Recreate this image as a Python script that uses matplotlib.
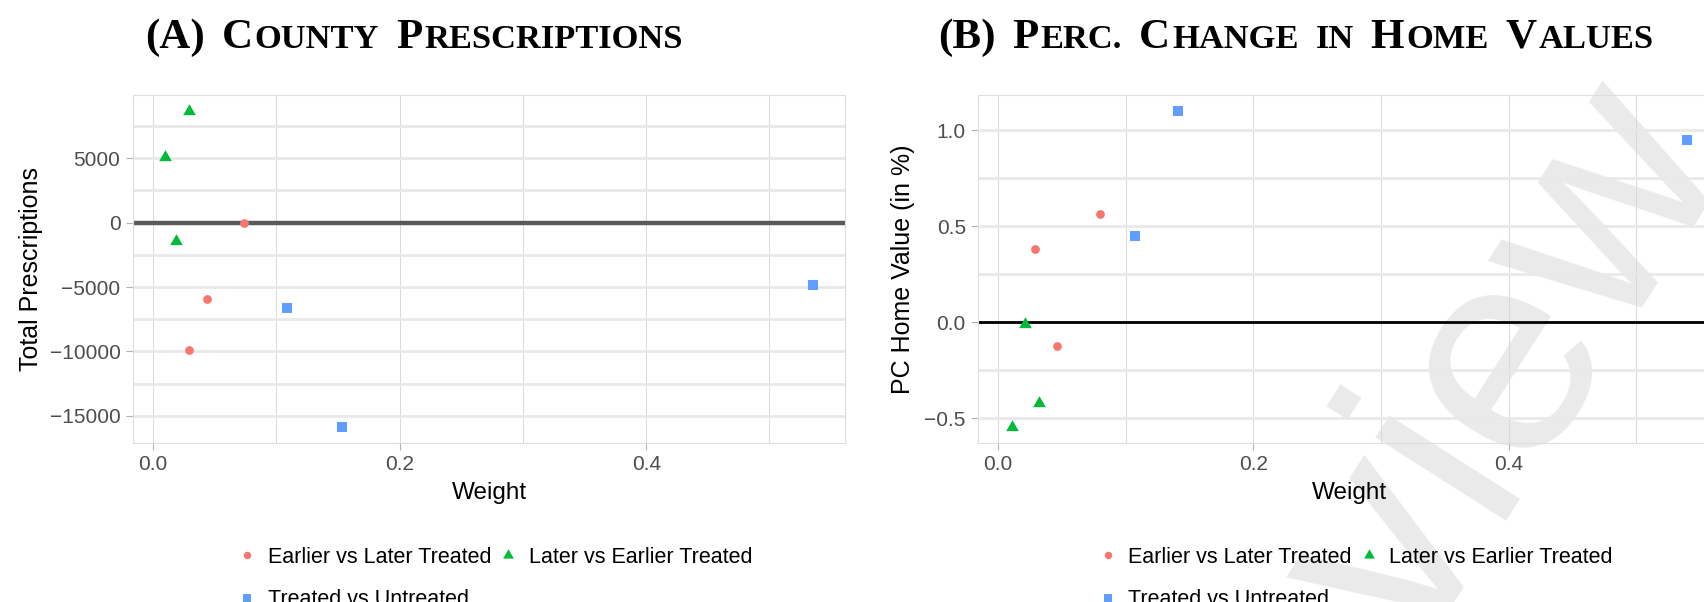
import matplotlib
matplotlib.use("Agg")
import matplotlib.pyplot as plt
from matplotlib.ticker import FixedLocator, FuncFormatter
from matplotlib.lines import Line2D

plt.rcParams['font.family'] = ['Liberation Sans', 'DejaVu Sans']

# ---------------- data ----------------
series = ["Earlier vs Later Treated", "Later vs Earlier Treated", "Treated vs Untreated"]
colors = ["#F8766D", "#00BA38", "#619CFF"]

# Panel A: County prescriptions
a_elt_w = [0.029, 0.044, 0.074]
a_elt_y = [-9860, -5950, -60]
a_let_w = [0.010, 0.019, 0.029]
a_let_y = [5080, -1410, 8680]
a_tvu_w = [0.109, 0.153, 0.535]
a_tvu_y = [-6600, -15840, -4850]

# Panel B: Percent change in home values
b_elt_w = [0.029, 0.046, 0.080]
b_elt_y = [0.382, -0.124, 0.563]
b_let_w = [0.011, 0.021, 0.032]
b_let_y = [-0.544, -0.010, -0.421]
b_tvu_w = [0.107, 0.141, 0.540]
b_tvu_y = [0.449, 1.102, 0.950]

a_yticks = [-15000, -10000, -5000, 0, 5000]
a_yminor = [-12500, -7500, -2500, 2500, 7500]
b_yticks = [-0.5, 0.0, 0.5, 1.0]
b_yminor = [-0.25, 0.25, 0.75]
xticks = [0.0, 0.2, 0.4]
xminor = [0.1, 0.3, 0.5]

W, H = 1704, 602
fig = plt.figure(figsize=(W / 100, H / 100), dpi=100)

# equilateral triangle marker
tri = [(0, 0.577), (-0.5, -0.289), (0.5, -0.289), (0, 0.577)]
markers = ['o', tri, 's']
msizes = [6.3, 10.5, 6.6]


def px_axes(x0, x1, y0, y1):
    return fig.add_axes([x0 / W, 1 - y1 / H, (x1 - x0) / W, (y1 - y0) / H])


def style(ax, yt, ym, yfmt, zcolor, zlw):
    ax.set_facecolor('none')
    ax.margins(x=0.05, y=0.05)
    ax.xaxis.set_major_locator(FixedLocator(xticks))
    ax.xaxis.set_minor_locator(FixedLocator(xminor))
    ax.yaxis.set_major_locator(FixedLocator(yt))
    ax.yaxis.set_minor_locator(FixedLocator(ym))
    ax.xaxis.set_major_formatter(FuncFormatter(lambda v, p: f"{v:.1f}".replace('-', '\u2212')))
    ax.yaxis.set_major_formatter(FuncFormatter(lambda v, p: yfmt(v).replace('-', '\u2212')))
    ax.grid(axis='y', which='both', color='#e9e9e9', lw=2.0)
    ax.grid(axis='x', which='both', color='#d9d9d9', lw=0.7)
    ax.set_axisbelow(True)
    for s in ax.spines.values():
        s.set_color('#dedede')
        s.set_linewidth(0.8)
    ax.tick_params(which='major', length=5, width=0.8, color='#b3b3b3',
                   labelsize=15, labelcolor='#4d4d4d', pad=4)
    ax.tick_params(which='minor', length=0)
    ax.axhline(0, color=zcolor, lw=zlw, zorder=1.6)


def scatter(ax, data):
    for (w, y), c, m, ms in zip(data, colors, markers, msizes):
        ax.plot(w, y, ls='none', marker=m, color=c, markersize=ms,
                markeredgewidth=0, zorder=3)


# watermark (behind everything)
fig.text(1160 / W, 1 - 1026 / H, "Preview", fontsize=212,
         color='#eaeaea', rotation=57.5, rotation_mode='anchor',
         ha='left', va='baseline', zorder=-5)

axA = px_axes(133, 845, 95, 442.5)
scatter(axA, [(a_elt_w, a_elt_y), (a_let_w, a_let_y), (a_tvu_w, a_tvu_y)])
style(axA, a_yticks, a_yminor, lambda v: f"{v:.0f}", '#5a5a5a', 3.2)

axB = px_axes(978.3, 1721, 95, 442.5)
scatter(axB, [(b_elt_w, b_elt_y), (b_let_w, b_let_y), (b_tvu_w, b_tvu_y)])
style(axB, b_yticks, b_yminor, lambda v: f"{v:.1f}", 'black', 2.0)

for ax, ylab, ylx in [(axA, "Total Prescriptions", (31 - 133) / 712),
                      (axB, "PC Home Value (in %)", (903 - 978.3) / 742.7)]:
    ax.set_ylabel(ylab, fontsize=18, va='center')
    ax.yaxis.set_label_coords(ylx, 0.5)
    ax.set_xlabel("Weight", fontsize=17.5, va='center')
    ax.xaxis.set_label_coords(0.5, (442.5 - 493) / 347.5)

# legends
for ax, x0 in [(axA, 236.5), (axB, 1097.0)]:
    handles = [Line2D([], [], ls='none', marker=m, color=c, markersize=ms * 0.85,
                      markeredgewidth=0) for c, m, ms in zip(colors, markers, msizes)]
    order = [0, 2, 1]
    fig.legend([handles[i] for i in order], [series[i] for i in order],
               loc='center left', bbox_to_anchor=(x0 / W, 1 - 578.4 / H),
               ncol=2, frameon=False, fontsize=15.5, borderpad=0,
               borderaxespad=0, handlelength=1.0, handletextpad=0.45,
               columnspacing=0.3, labelspacing=1.0)

# small-caps titles
renderer = fig.canvas.get_renderer()
TITLE_FONT = 'Liberation Serif'
BIG = 31
SMALL = 24.8


def smallcaps(x_px, base_px, segs):
    x = x_px
    for s, kind in segs:
        if kind == 'gap':
            x += BIG * 1.389 * 0.3 + 2
            continue
        size = BIG if kind == 'B' else SMALL
        t = fig.text(x / W, 1 - base_px / H, s, fontsize=size, fontweight='bold',
                     family=TITLE_FONT, ha='left', va='baseline')
        x += t.get_window_extent(renderer).width + 2


smallcaps(145, 48, [("(A)", 'B'), ("", 'gap'), ("C", 'B'), ("OUNTY", 'S'), ("", 'gap'),
                    ("P", 'B'), ("RESCRIPTIONS", 'S')])
smallcaps(938, 48, [("(B)", 'B'), ("", 'gap'), ("P", 'B'), ("ERC.", 'S'), ("", 'gap'),
                    ("C", 'B'), ("HANGE", 'S'), ("", 'gap'), ("IN", 'S'), ("", 'gap'),
                    ("H", 'B'), ("OME", 'S'), ("", 'gap'), ("V", 'B'), ("ALUES", 'S')])

fig.savefig("out.png", dpi=100)
